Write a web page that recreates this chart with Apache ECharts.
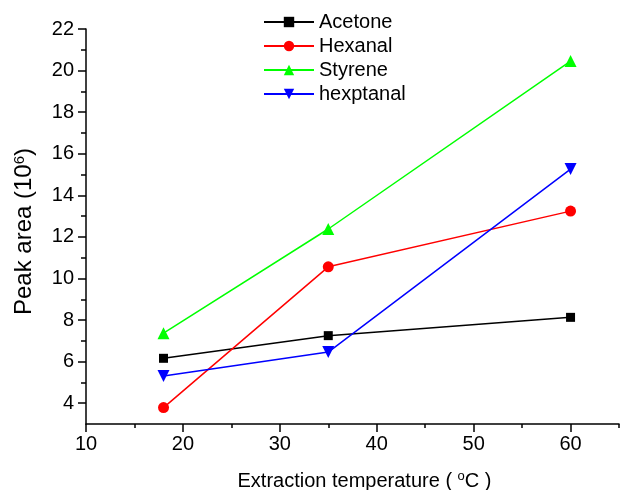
<!DOCTYPE html>
<html>
<head>
<meta charset="utf-8">
<script src="https://cdn.jsdelivr.net/npm/echarts@6/dist/echarts.min.js"></script>
<style>
  html, body { margin: 0; padding: 0; background: #fff; }
  #chart { width: 620px; height: 490px; }
</style>
</head>
<body>
<div id="chart"></div>
<script>
// Extraction temperatures (°C)
const temperatures = [18, 35, 60];

// Peak areas (x10^6) per compound
const acetone   = [6.16, 7.25, 8.13];
const hexanal   = [3.79, 10.56, 13.24];
const styrene   = [7.37, 12.38, 20.46];
const hexptanal = [5.31, 6.46, 15.26];

const seriesNames = ['Acetone', 'Hexanal', 'Styrene', 'hexptanal'];

// Axis tick positions
const xMajorTicks = [10, 20, 30, 40, 50, 60];
const xMinorTicks = [15, 25, 35, 45, 55, 65];
const yMajorTicks = [4, 6, 8, 10, 12, 14, 16, 18, 20, 22];
const yMinorTicks = [5, 7, 9, 11, 13, 15, 17, 19, 21];

const FONT = '"Liberation Sans", Arial, sans-serif';
const invTriangle = 'path://M0,0 L10,0 L5,9 Z';

function pairs(ys) {
  return temperatures.map((t, i) => [t, ys[i]]);
}

function lineSeries(name, ys, color, symbol, size) {
  return {
    name: name,
    type: 'line',
    data: pairs(ys),
    xAxisIndex: 0,
    yAxisIndex: 0,
    symbol: symbol,
    symbolSize: size,
    showAllSymbol: true,
    lineStyle: { color: color, width: 1.5 },
    itemStyle: { color: color },
    emphasis: { disabled: true },
    animation: false
  };
}

const chart = echarts.init(document.getElementById('chart'), null, { renderer: 'canvas' });

const axisLineStyle = { color: '#000', width: 1.5 };

chart.setOption({
  animation: false,
  textStyle: { fontFamily: FONT, color: '#000' },
  grid: { left: 86, right: 1, top: 29, bottom: 66, containLabel: false, outerBoundsMode: 'none' },
  legend: {
    orient: 'vertical',
    left: 258,
    top: 7,
    itemWidth: 50,
    itemHeight: 13,
    itemGap: 4,
    textStyle: { fontFamily: FONT, fontSize: 20, color: '#000' },
    data: seriesNames
  },
  xAxis: [
    {
      type: 'value',
      min: 10,
      max: 65,
      interval: 5,
      splitLine: { show: false },
      axisLine: { show: true, onZero: false, lineStyle: axisLineStyle },
      axisTick: { show: true, inside: false, length: 8, customValues: xMajorTicks, lineStyle: axisLineStyle },
      axisLabel: {
        customValues: xMajorTicks,
        margin: 10,
        fontSize: 20,
        fontFamily: FONT,
        color: '#000'
      },
      name: 'Extraction temperature ( {sup|o}C )',
      nameLocation: 'middle',
      nameGap: 46,
      nameTextStyle: {
        fontSize: 20,
        fontFamily: FONT,
        color: '#000',
        padding: [0, 0, 0, 24],
        rich: {
          sup: { fontSize: 13, fontFamily: FONT, color: '#000', verticalAlign: 'top', padding: [0, 0, 9, 0] }
        }
      }
    },
    {
      type: 'value',
      min: 10,
      max: 65,
      interval: 5,
      position: 'bottom',
      splitLine: { show: false },
      axisLine: { show: false },
      axisTick: { show: true, inside: false, length: 4, customValues: xMinorTicks, lineStyle: axisLineStyle },
      axisLabel: { show: false }
    }
  ],
  yAxis: [
    {
      type: 'value',
      min: 3,
      max: 22,
      interval: 1,
      splitLine: { show: false },
      axisLine: { show: true, onZero: false, lineStyle: axisLineStyle },
      axisTick: { show: true, inside: false, length: 8, customValues: yMajorTicks, lineStyle: axisLineStyle },
      axisLabel: {
        customValues: yMajorTicks,
        margin: 12,
        fontSize: 20,
        fontFamily: FONT,
        color: '#000'
      },
      name: 'Peak area (10{sup|6})',
      nameLocation: 'middle',
      nameRotate: 90,
      nameGap: 49,
      nameTextStyle: {
        fontSize: 24,
        fontFamily: FONT,
        color: '#000',
        padding: [0, 10, 0, 0],
        rich: {
          sup: { fontSize: 15, fontFamily: FONT, color: '#000', verticalAlign: 'top', padding: [0, 0, 10, 0] }
        }
      }
    },
    {
      type: 'value',
      min: 3,
      max: 22,
      interval: 1,
      position: 'left',
      splitLine: { show: false },
      axisLine: { show: false },
      axisTick: { show: true, inside: false, length: 5, customValues: yMinorTicks, lineStyle: axisLineStyle },
      axisLabel: { show: false }
    }
  ],
  series: [
    lineSeries('Acetone', acetone, '#000000', 'rect', 9),
    lineSeries('Hexanal', hexanal, '#ff0000', 'circle', 11),
    lineSeries('Styrene', styrene, '#00ff00', 'triangle', 12),
    lineSeries('hexptanal', hexptanal, '#0000ff', invTriangle, 12)
  ]
});
</script>
</body>
</html>
